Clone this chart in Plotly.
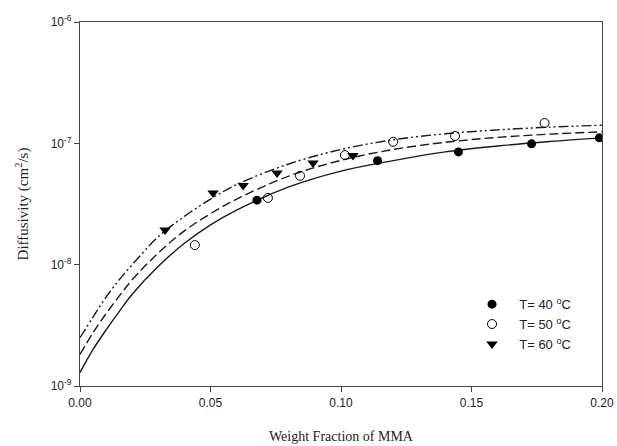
import plotly.graph_objects as go

# Measured data points
x40 = [0.0678, 0.114, 0.145, 0.173, 0.199]
d40 = [3.4e-8, 7.2e-8, 8.5e-8, 9.9e-8, 1.11e-7]

x50 = [0.044, 0.072, 0.0843, 0.1015, 0.120, 0.1437, 0.178]
d50 = [1.45e-8, 3.55e-8, 5.4e-8, 8.0e-8, 1.03e-7, 1.15e-7, 1.47e-7]

x60 = [0.0326, 0.051, 0.0625, 0.0755, 0.0893, 0.1046]
d60 = [1.93e-8, 3.9e-8, 4.5e-8, 5.7e-8, 6.9e-8, 7.95e-8]

# Fitted curves
xc = [0, 0.005, 0.01, 0.015, 0.02, 0.03, 0.04, 0.05, 0.06, 0.08, 0.1, 0.12, 0.14, 0.16, 0.18, 0.2]
c40 = [1.29e-9, 2.0e-9, 2.9e-9, 4.1e-9, 5.7e-9, 9.7e-9, 1.5e-8, 2.13e-8, 2.82e-8, 4.37e-8,
       5.9e-8, 7.2e-8, 8.5e-8, 9.5e-8, 1.035e-7, 1.11e-7]
c50 = [1.82e-9, 2.75e-9, 3.95e-9, 5.5e-9, 7.5e-9, 1.25e-8, 1.9e-8, 2.63e-8, 3.47e-8, 5.37e-8,
       7.24e-8, 8.9e-8, 1.02e-7, 1.12e-7, 1.19e-7, 1.245e-7]
c60 = [2.5e-9, 3.7e-9, 5.4e-9, 7.5e-9, 1.0e-8, 1.7e-8, 2.5e-8, 3.47e-8, 4.57e-8, 6.76e-8,
       8.9e-8, 1.07e-7, 1.2e-7, 1.29e-7, 1.36e-7, 1.41e-7]

pad = "\u00a0" * 2
names = [pad + "T= 40 <sup>o</sup>C", pad + "T= 50 <sup>o</sup>C", pad + "T= 60 <sup>o</sup>C"]
ytickvals = [1e-9, 1e-8, 1e-7, 1e-6]
yticktext = ["10<sup>-9</sup>", "10<sup>-8</sup>", "10<sup>-7</sup>", "10<sup>-6</sup>"]
xtickvals = [0.0, 0.05, 0.10, 0.15, 0.20]
xticktext = ["0.00", "0.05", "0.10", "0.15", "0.20"]

fig = go.Figure()
lc = "#1a1a1a"
fig.add_trace(go.Scatter(x=xc, y=c40, mode="lines", line=dict(color=lc, width=1.4, shape="spline"),
                         showlegend=False, hoverinfo="skip"))
fig.add_trace(go.Scatter(x=xc, y=c50, mode="lines",
                         line=dict(color=lc, width=1.4, dash="9px,4px", shape="spline"),
                         showlegend=False, hoverinfo="skip"))
fig.add_trace(go.Scatter(x=xc, y=c60, mode="lines",
                         line=dict(color=lc, width=1.4, dash="10px,3px,2px,3px,2px,3px", shape="spline"),
                         showlegend=False, hoverinfo="skip"))

fig.add_trace(go.Scatter(x=x40, y=d40, mode="markers", name=names[0],
                         marker=dict(symbol="circle", size=9, color="black")))
fig.add_trace(go.Scatter(x=x50, y=d50, mode="markers", name=names[1],
                         marker=dict(symbol="circle-open", size=9, color="black", line=dict(width=1))))
fig.add_trace(go.Scatter(x=x60, y=d60, mode="markers", name=names[2],
                         marker=dict(symbol="triangle-down", size=10, color="black")))

axfont = dict(family="Liberation Sans, Arial, sans-serif", size=12, color="#222")
fig.update_layout(
    width=617, height=446,
    margin=dict(l=80, r=15, t=22, b=60),
    paper_bgcolor="white", plot_bgcolor="white",
    font=axfont,
    showlegend=True,
    legend=dict(x=0.751, y=0.266, xanchor="left", yanchor="top",
                bgcolor="rgba(0,0,0,0)", font=dict(family="Liberation Sans, Arial, sans-serif", size=13, color="#222"),
                tracegroupgap=0, itemwidth=30),
    xaxis=dict(range=[0, 0.2], tickvals=xtickvals, ticktext=xticktext, automargin=False,
               showgrid=False, zeroline=False, showline=True, linecolor="#444", linewidth=1.2,
               mirror=True, ticks="outside", ticklen=5, tickcolor="#444",
               title=dict(text="Weight Fraction of MMA", standoff=22,
                          font=dict(family="Liberation Serif, Times New Roman, serif", size=14, color="#222"))),
    yaxis=dict(type="log", range=[-9, -6], tickvals=ytickvals, ticktext=yticktext, automargin=False,
               showgrid=False, zeroline=False, showline=True, linecolor="#444", linewidth=1.2,
               mirror=True, ticks="outside", ticklen=5, tickcolor="#444",
               title=dict(text="Diffusivity (cm<sup>2</sup>/s)", standoff=18,
                          font=dict(family="Liberation Serif, Times New Roman, serif", size=15, color="#222"))),
)

fig.write_html("out.html")
